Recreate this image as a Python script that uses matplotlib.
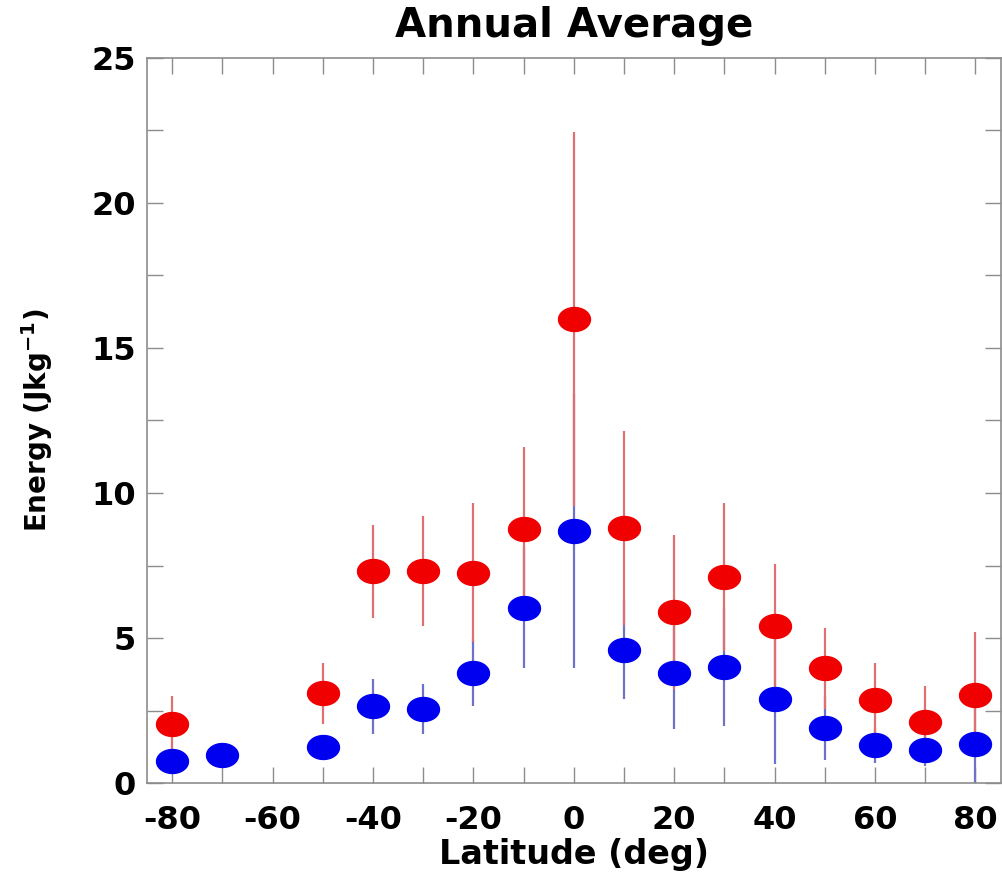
import matplotlib
matplotlib.use('Agg')
import matplotlib.pyplot as plt
from matplotlib.path import Path
from matplotlib.ticker import MultipleLocator
import numpy as np

# zonal means (red: total, blue: component), error = 1 sigma
red_lat = [-80, -50, -40, -30, -20, -10, 0, 10, 20, 30, 40, 50, 60, 70, 80]
red_val = [2.05, 3.1, 7.3, 7.3, 7.25, 8.75, 16.0, 8.8, 5.9, 7.1, 5.4, 3.95, 2.85, 2.1, 3.05]
red_err = [0.95, 1.05, 1.6, 1.9, 2.4, 2.85, 6.45, 3.35, 2.65, 2.55, 2.15, 1.4, 1.3, 1.25, 2.15]

blue_lat = [-80, -70, -50, -40, -30, -20, -10, 0, 10, 20, 30, 40, 50, 60, 70, 80]
blue_val = [0.75, 0.95, 1.25, 2.65, 2.55, 3.8, 6.05, 8.7, 4.6, 3.8, 4.0, 2.9, 1.9, 1.3, 1.15, 1.35]
blue_err = [0.3, 0.3, 0.3, 0.95, 0.85, 1.15, 2.1, 4.75, 1.7, 1.95, 2.05, 2.25, 1.1, 0.6, 0.55, 1.35]

plt.rcParams['font.family'] = ['DejaVu Sans']
plt.rcParams['font.weight'] = 'bold'
plt.rcParams['mathtext.default'] = 'bf'
plt.rcParams['axes.unicode_minus'] = False

# flattened filled ellipse used as plot symbol
t = np.linspace(0, 2 * np.pi, 60)
ellipse = Path(np.column_stack([np.cos(t), 0.75 * np.sin(t)]), closed=True)

fig = plt.figure(figsize=(10.02, 8.72), dpi=100)
ax = fig.add_axes([147 / 1002, 89 / 872, 853.5 / 1002, 725 / 872])

ax.errorbar(blue_lat, blue_val, yerr=blue_err, fmt='none', ecolor='#6f72c8', elinewidth=1.6, capsize=0, zorder=2)
ax.errorbar(red_lat, red_val, yerr=red_err, fmt='none', ecolor='#e07070', elinewidth=1.6, capsize=0, zorder=3)
ax.plot(blue_lat, blue_val, linestyle='none', marker=ellipse, markersize=23, color='#0000f0', zorder=4)
ax.plot(red_lat, red_val, linestyle='none', marker=ellipse, markersize=23, color='#f00000', zorder=5)

ax.set_xlim(-85, 85)
ax.set_ylim(0, 25)
ax.xaxis.set_major_locator(MultipleLocator(20))
ax.xaxis.set_minor_locator(MultipleLocator(10))
ax.yaxis.set_major_locator(MultipleLocator(5))
ax.yaxis.set_minor_locator(MultipleLocator(2.5))

for s in ax.spines.values():
    s.set_color('#8c8c8c')
    s.set_linewidth(1.2)
ax.tick_params(which='both', direction='in', top=True, right=True, length=11.5, width=1.0, color='#8c8c8c')
ax.tick_params(axis='x', which='major', labelsize=23, pad=16)
ax.tick_params(axis='y', which='major', labelsize=23, pad=8)

ax.set_title('Annual Average', fontsize=29, fontweight='bold', pad=15)
ax.set_xlabel('Latitude (deg)', fontsize=24, fontweight='bold', labelpad=1)
ax.set_ylabel('Energy (Jkg$^{-1}$)', fontsize=20, fontweight='bold', labelpad=26)

fig.savefig('out.png', dpi=100)
